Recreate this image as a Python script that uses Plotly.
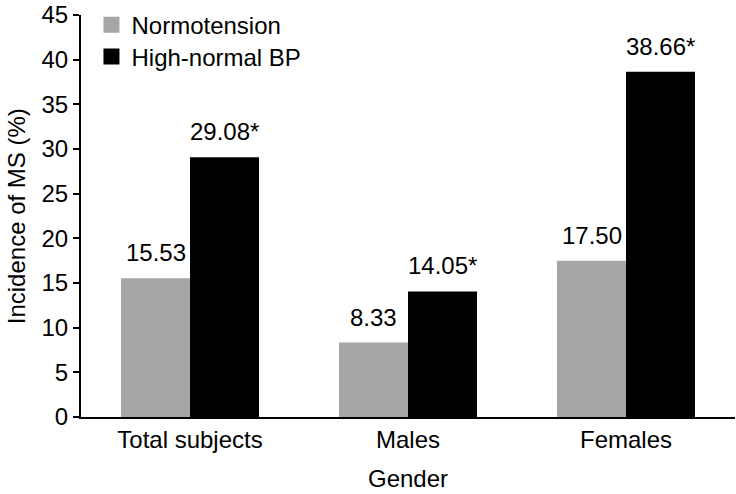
import plotly.graph_objects as go

categories = ["Total subjects", "Males", "Females"]
normotension = [15.53, 8.33, 17.50]
high_normal = [29.08, 14.05, 38.66]
normo_labels = ["15.53", "8.33", "17.50"]
high_labels = ["29.08*", "14.05*", "38.66*"]
y_ticks = [0, 5, 10, 15, 20, 25, 30, 35, 40, 45]

GREY = "#a6a6a6"
BLACK = "#000000"
FONT = "Liberation Sans, Arial, sans-serif"
FS = 24

fig = go.Figure()
fig.add_bar(x=categories, y=normotension, name="Normotension",
            marker=dict(color=GREY, line=dict(width=0)), showlegend=False)
fig.add_bar(x=categories, y=high_normal, name="High-normal BP",
            marker=dict(color=BLACK, line=dict(width=0)), showlegend=False)

# legend proxies with larger square symbols (two legends for exact spacing)
fig.add_scatter(x=[None], y=[None], mode="markers", name="Normotension",
                marker=dict(symbol="square", size=19, color=GREY), legend="legend")
fig.add_scatter(x=[None], y=[None], mode="markers", name="High-normal BP",
                marker=dict(symbol="square", size=19, color=BLACK), legend="legend2")

BAR_PX = 69
for cat, v, t in zip(categories, normotension, normo_labels):
    fig.add_annotation(x=cat, y=v, text=t, showarrow=False, yanchor="bottom",
                       xshift=-BAR_PX / 2, yshift=10,
                       font=dict(family=FONT, size=FS, color="black"))
for cat, v, t in zip(categories, high_normal, high_labels):
    fig.add_annotation(x=cat, y=v, text=t, showarrow=False, yanchor="bottom",
                       xshift=BAR_PX / 2, yshift=10,
                       font=dict(family=FONT, size=FS, color="black"))

# axis titles
fig.add_annotation(x=0.5, xref="paper", y=-0.152, yref="paper", yanchor="middle",
                   text="Gender", showarrow=False,
                   font=dict(family=FONT, size=FS, color="black"))
fig.add_annotation(x=-0.099, xref="paper", y=0.5, yref="paper", xanchor="center",
                   yanchor="middle",
                   text="Incidence of MS (%)", showarrow=False, textangle=-90,
                   font=dict(family=FONT, size=FS, color="black"))

legend_style = dict(xanchor="left", yanchor="middle", bgcolor="rgba(0,0,0,0)",
                    font=dict(family=FONT, size=FS, color="black"),
                    itemsizing="trace", itemwidth=30)

fig.update_layout(
    width=736, height=494,
    margin=dict(l=81, r=1, t=15, b=77, autoexpand=False),
    barmode="group", bargap=0.367, bargroupgap=0,
    plot_bgcolor="white", paper_bgcolor="white",
    font=dict(family=FONT, size=FS, color="black"),
    legend=dict(x=0.016, y=0.975, **legend_style),
    legend2=dict(x=0.016, y=0.8955, **legend_style),
)
fig.update_xaxes(showline=True, linecolor="black", linewidth=2,
                 ticks="", showgrid=False, range=[-0.5, 2.5], automargin=False,
                 tickfont=dict(size=FS), ticklabeloverflow="allow")
fig.update_yaxes(showline=True, linecolor="black", linewidth=2,
                 ticks="outside", ticklen=6, tickwidth=2, tickcolor="black",
                 showgrid=False, zeroline=False, range=[0, 45], automargin=False,
                 tickvals=y_ticks, ticktext=[str(v) for v in y_ticks],
                 tickfont=dict(size=FS), ticklabeloverflow="allow")

# remove the default 8px page margin so the figure fills the window exactly
fig.write_html("out.html", config={"displayModeBar": False},
               post_script="document.body.style.margin='0';")
